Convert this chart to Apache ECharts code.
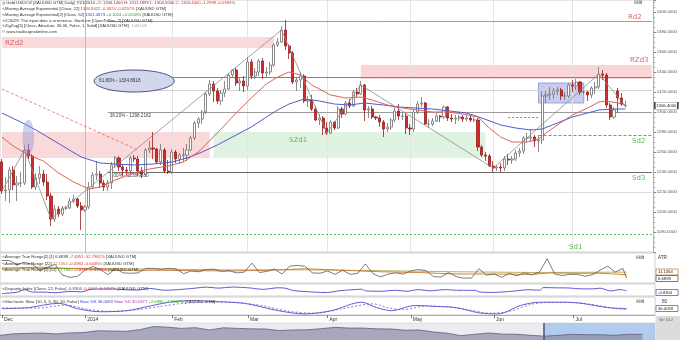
<!DOCTYPE html>
<html><head><meta charset="utf-8">
<script src="https://cdn.jsdelivr.net/npm/echarts/dist/echarts.min.js"></script>
<style>html,body{margin:0;padding:0;background:#fff}#c{width:680px;height:340px}</style>
</head><body><div id="c"></div>
<script>
// ---- price data (daily bars Dec 2 2013 .. Jul 21 2014) ----
const opens = [1250,1221,1222,1242,1227,1229,1229,1262,1256,1225,1234,1238,1230,1216,1193,1203,1198,1204,1204,1211,1213,1206,
 1202,1205,1225,1237,1238,1229,1225,1229,1247,1254,1245,1242,1241,1254,1253,1241,1238,1262,1264,1263,1250,1262,1241,
 1240,1260,1253,1257,1257,1262,1274,1289,1293,1300,1318,1328,1321,1311,1319,1323,1337,1342,1329,1331,
 1326,1350,1336,1340,1351,1339,1340,1347,1367,1370,1382,1366,1359,1330,1332,1336,1311,1312,1303,1292,1294,
 1284,1279,1290,1284,1303,1298,1309,1306,1320,1318,1327,1302,1303,1295,1294,1290,1283,1285,1292,1301,1296,1296,
 1284,1283,1300,1308,1309,1288,1288,1291,1296,1295,1305,1294,1293,1294,1295,1293,1294,1292,1292,1265,1257,1256,
 1246,1244,1245,1244,1253,1252,1253,1259,1261,1274,1274,1275,1271,1272,1316,1317,1318,1321,1322,1316,1316,
 1327,1326,1330,1320,1320,1317,1324,1325,1338,1337,1307,1295,1321,1314,1306.14];
const closes = [1221,1222,1242,1227,1229,1229,1262,1256,1225,1234,1238,1230,1216,1193,1203,1198,1204,1204,1211,1213,1206,1202,
 1205,1225,1237,1238,1229,1225,1229,1247,1254,1245,1242,1241,1254,1253,1241,1238,1262,1264,1263,1250,1262,1241,1240,
 1260,1253,1257,1257,1262,1274,1289,1293,1300,1318,1328,1321,1311,1319,1323,1337,1342,1329,1331,1326,
 1350,1336,1340,1351,1339,1340,1347,1367,1370,1382,1366,1359,1330,1332,1336,1311,1312,1303,1292,1294,1284,
 1279,1290,1284,1303,1298,1309,1306,1320,1318,1327,1302,1303,1295,1294,1290,1283,1285,1292,1301,1296,1296,1284,
 1283,1300,1308,1309,1288,1288,1291,1296,1295,1305,1294,1293,1294,1295,1293,1294,1292,1292,1265,1257,1256,1246,
 1244,1245,1244,1253,1252,1253,1259,1261,1274,1274,1275,1271,1272,1316,1317,1318,1321,1322,1316,1316,1327,
 1326,1330,1320,1320,1317,1324,1325,1338,1337,1307,1295,1302,1314,1308,1306.4];
const lows = [1218,1211,1209,1222,1211,1225,1227,1253,1223,1222,1228,1226,1212,1186,1190,1195,1196,1202,1203,1209,1204,1182,
 1200,1203,1223,1232,1224,1221,1221,1223,1244,1241,1236,1237,1238,1250,1236,1234,1236,1259,1253,1248,1247,1239,1238,
 1238,1249,1248,1250,1251,1261,1272,1284,1288,1298,1316,1310,1308,1307,1315,1322,1334,1326,1321,1320,
 1322,1333,1333,1336,1333,1335,1337,1345,1365,1369,1362,1353,1328,1321,1324,1309,1305,1301,1291,1287,1277,
 1277,1278,1282,1283,1294,1297,1304,1305,1315,1317,1291,1294,1293,1292,1285,1275,1280,1282,1290,1292,1292,1278,
 1277,1280,1298,1305,1287,1284,1286,1290,1290,1293,1291,1290,1288,1291,1290,1291,1290,1290,1261,1255,1251,1245,
 1240,1241,1240,1241,1247,1248,1251,1255,1258,1270,1270,1265,1260,1268,1309,1312,1313,1317,1312,1312,1314,
 1320,1322,1317,1318,1311,1314,1318,1323,1332,1304,1292,1293,1299,1306,1304.5];
const highs = [1253,1235,1245,1246,1236,1240,1267,1268,1258,1239,1246,1242,1238,1219,1207,1206,1206,1206,1214,1217,1214,1210,
 1207,1230,1240,1251,1241,1232,1232,1250,1256,1256,1248,1245,1256,1257,1256,1245,1264,1271,1280,1264,1268,1264,1252,
 1263,1262,1259,1264,1268,1276,1291,1295,1302,1320,1332,1331,1324,1322,1331,1339,1343,1344,1334,1336,
 1355,1353,1344,1353,1354,1345,1350,1369,1374,1386,1392,1368,1361,1335,1340,1338,1316,1317,1306,1298,1296,
 1290,1292,1291,1306,1305,1311,1313,1322,1324,1331,1328,1306,1306,1296,1297,1292,1289,1294,1305,1308,1300,1299,
 1288,1303,1311,1315,1310,1293,1294,1299,1297,1306,1306,1298,1297,1297,1297,1297,1297,1295,1294,1267,1260,1258,
 1251,1247,1249,1256,1258,1256,1262,1264,1276,1279,1283,1277,1277,1321,1321,1325,1324,1325,1324,1320,1329,
 1332,1333,1331,1322,1321,1326,1330,1345,1342,1339,1309,1305,1324,1319,1311.19];

// ---- indicator lines: [bar index, value] ----
const ema22 = [[0,1275],[3,1266],[7,1257],[11,1251],[15,1239],[19,1230],[23,1223],[26,1225],[30,1232],[35,1239],[39,1243],[44,1246],[48,1250],[52,1260],[57,1279],[62,1299],[66,1314],[70,1328],[73,1335],[76,1340],[79,1337],[82,1327],[87,1317],[91,1314],[95,1315],[98,1312],[102,1307],[106,1304],[110,1302],[114,1300],[118,1300],[122,1298],[126,1295],[129,1284],[132,1275],[135,1270],[139,1270],[142,1273],[144,1279],[147,1287],[151,1297],[155,1304],[158,1310],[160,1311],[163,1309],[165,1307]];
const ema52 = [[0,1299],[5,1290],[9,1282],[13,1273],[17,1264],[21,1255],[26,1249],[30,1248],[35,1247],[40,1248],[45,1250],[49,1254],[53,1260],[57,1267],[61,1275],[66,1285],[70,1295],[73,1302],[76,1308],[80,1313],[84,1311],[88,1308],[92,1307],[96,1309],[101,1307],[105,1305],[114,1303],[123,1299],[127,1294],[132,1287],[136,1284],[140,1282],[143,1283],[147,1289],[151,1295],[155,1299],[158,1302],[162,1303],[165,1303]];
const zigzag = [[0,1221],[6,1262],[13,1193],[74,1382],[86,1279],[95,1327],[130,1244],[158,1338],[165,1306]];
const trendDash = [[0,1323],[36,1262]];

const atrFast = [[0,30],[2,30],[4,24.5],[6,27.5],[8,25],[10,17.5],[12,21],[14,25],[16,10.5],[18,7.5],[20,9],[22,17.5],[24,22],[26,18],[28,11],[30,19.5],[32,13.5],[34,13],[36,13.5],[38,19.5],[40,19.5],[42,18.5],[44,19.5],[46,19],[48,12.5],[50,16],[52,15],[54,18],[56,18.5],[58,15.5],[60,16.5],[62,13.5],[64,14.5],[66,26.5],[68,14],[70,15.5],[72,18.5],[74,12],[76,22.5],[78,23.5],[80,22.5],[82,13.5],[84,13],[86,16],[88,11.5],[90,17],[92,11.5],[94,13],[96,25.5],[98,12.5],[100,8],[102,12],[104,13.5],[106,12],[108,16],[110,18],[112,16.5],[114,8.5],[116,8],[118,14],[120,8.5],[122,6.5],[124,6.5],[126,19],[128,10.5],[130,12],[132,7.5],[134,13],[136,9.5],[138,13.5],[140,11],[142,14.5],[144,32.5],[146,12],[148,10],[150,11.5],[152,11.5],[154,9],[156,11],[158,17],[160,22.5],[162,14.5],[164,19.5],[165,6.7]];
const atrMid = [[0,20],[10,21],[20,19],[30,17],[40,17],[50,16.5],[60,16],[70,17],[80,19],[90,17],[100,15],[110,14],[120,12],[130,12],[140,11.5],[145,13.5],[150,13],[158,13],[165,11.1]];
const atrSlow = [[0,19],[20,19.5],[40,18.5],[60,17.5],[80,17.5],[100,16.5],[120,15],[140,14],[165,14.5]];
const disparity = [[0,-4.2],[4,-2.6],[6,0.3],[8,-2.4],[12,-2.6],[14,-3.2],[18,-1.7],[21,-2.1],[24,1.1],[29,1.2],[33,0.2],[36,0],[39,1.8],[43,-0.3],[47,0.6],[51,2.1],[54,3.4],[57,2.2],[61,3.4],[65,2.6],[69,0.8],[73,2.6],[75,2.0],[77,-0.7],[80,-1.7],[83,-2.6],[86,-2.9],[89,-0.9],[93,0.4],[95,0.9],[96,-0.9],[100,-1.5],[104,-0.3],[107,-1.5],[110,0.5],[113,-1.0],[117,0.4],[121,-0.4],[125,-0.4],[126,-2.3],[129,-2.8],[132,-2.4],[136,-0.9],[139,0.3],[142,-0.2],[143,2.8],[147,2.5],[150,2.3],[153,1.3],[156,1.3],[158,2.1],[160,-0.4],[161,-1.2],[163,0.5],[165,-0.83]];
const stochK = [[0,35],[7,41],[15,65],[20,35],[26,18],[33,24],[38,45],[44,70],[50,80],[55,76],[64,65],[73,24],[80,6],[87,24],[95,71],[99,41],[103,24],[109,53],[115,47],[120,41],[126,12],[131,6],[137,53],[142,71],[149,71],[153,65],[160,41],[165,36]];
const stochD = [[0,40],[9,38],[17,55],[23,30],[29,20],[36,30],[41,45],[48,65],[57,72],[67,58],[76,20],[83,10],[90,35],[98,62],[102,40],[106,30],[112,50],[118,45],[123,30],[129,10],[134,20],[140,60],[145,70],[152,68],[157,55],[163,33],[165,30]];
const navValues = [1250,1350,1380,1400,1340,1410,1430,1550,1530,1510,1620,1820,1780,1700,1750,1600,1740,1700,1670,1660,1560,1600,1610,1680,1770,1720,1720,1670,1660,1580,1600,1470,1390,1230,1320,1400,1330,1320,1250,1200,1250,1320,1290,1290,1250,1320,1310];

const monthStarts = [0,22,45,65,86,108,130,151];
const monthNames = ['Dec','2014','Feb','Mar','Apr','May','Jun','Jul'];
const N_CAT = 173;

// ---- build ----
const cats = Array.from({length:N_CAT}, (_, i) => String(i));
const candles = opens.map((o, i) => [o, closes[i], lows[i], highs[i]]);
const navData = navValues.map((v, i) => [i, v]);
const F = '"Liberation Sans", Arial, sans-serif';
const GRID_R = 25;

function hLine(i1, i2, v, color, type, width, label) {
  const a = {coord:[i1, v], lineStyle:{color, type: type || 'solid', width: width || 1}};
  if (label) a.label = {show:true, formatter: label, position:'insideStartBottom', fontSize:4.6, color:'#444', fontFamily:F, distance:[2,1]};
  return [a, {coord:[i2, v]}];
}
function band(i1, i2, v1, v2, color, border) {
  return [{coord:[i1, v1], itemStyle:{color, borderColor: border || 'transparent', borderWidth: border ? 0.8 : 0}}, {coord:[i2, v2]}];
}

const chart = echarts.init(document.getElementById('c'), null, {renderer:'canvas'});

const hidX = (gi) => ({type:'category', gridIndex:gi, data:cats, boundaryGap:true, show:false});

const option = {
  animation:false,
  backgroundColor:'#ffffff',
  grid:[
    {left:0, right:GRID_R, top:0, height:252, show:true, borderColor:'#c4c4c4', borderWidth:0.8},
    {left:0, right:GRID_R, top:253, height:30, show:true, borderColor:'#c4c4c4', borderWidth:0.8},
    {left:0, right:GRID_R, top:284, height:12, show:true, borderColor:'#c4c4c4', borderWidth:0.8},
    {left:0, right:GRID_R, top:297, height:18, show:true, borderColor:'#c4c4c4', borderWidth:0.8},
    {left:0, right:GRID_R, top:323, height:17, show:true, borderColor:'#c8c8d0', borderWidth:0.5, backgroundColor:'#ebebf0'}
  ],
  xAxis:[
    hidX(0), hidX(1), hidX(2),
    {type:'category', gridIndex:3, data:cats, boundaryGap:true,
      axisLine:{show:true, lineStyle:{color:'#9a9a9a', width:0.8}},
      axisTick:{show:true, interval:(i)=>monthStarts.includes(i), length:3, lineStyle:{color:'#777'}, alignWithLabel:true},
      axisLabel:{show:true, interval:(i)=>monthStarts.includes(i), formatter:(v)=>monthNames[monthStarts.indexOf(+v)] || '', align:'left', margin:2, padding:[0,0,0,2], fontSize:5, color:'#333', fontFamily:F}},
    {type:'value', gridIndex:4, min:0, max:46.9, show:false}
  ],
  yAxis:[
    {type:'value', gridIndex:0, position:'right', min:1160, max:1412, interval:20, scale:true,
      axisLine:{show:true, lineStyle:{color:'#a8a8a8', width:0.8}},
      axisTick:{show:true, length:2.5, lineStyle:{color:'#888'}},
      minorTick:{show:true, splitNumber:4, length:1.5, lineStyle:{color:'#aaa'}},
      splitLine:{show:false},
      axisLabel:{fontSize:4.3, color:'#555', fontFamily:F, margin:3, showMinLabel:false, showMaxLabel:false, formatter:(v)=>v.toFixed(4)}},
    {type:'value', gridIndex:1, min:0, max:40, show:false},
    {type:'value', gridIndex:2, min:-7, max:7, show:false},
    {type:'value', gridIndex:3, min:0, max:100, show:false},
    {type:'value', gridIndex:4, min:950, max:2050, show:false}
  ],
  series:[
    {type:'line', xAxisIndex:0, yAxisIndex:0, data:[], silent:true, z:1,
      markArea:{silent:true, z:1, data:[
        band(0, 72, 1375, 1364, 'rgba(232,120,120,0.28)'),
        band(0, 55, 1280, 1254, 'rgba(232,120,120,0.28)'),
        band(56, 128, 1280, 1254, 'rgba(130,205,130,0.25)'),
        band(95, 172, 1347, 1333, 'rgba(232,120,120,0.30)'),
        band(142, 154, 1329, 1309, 'rgba(125,135,220,0.42)', '#8a90d4')
      ]},
      markLine:{silent:true, z:1, symbol:['none','none'], label:{show:false}, data:[
        ...monthStarts.slice(1).map((m) => ({xAxis:m, lineStyle:{color: m === 22 ? '#bdbdbd' : '#e4e4e4', width:1, type:'solid'}})),
        hLine(28, 172, 1391, '#9c9c9c'),
        hLine(28, 172, 1335, '#b07070'),
        hLine(28, 172, 1322, '#d0d0d0'),
        hLine(28, 172, 1300, '#9c9c9c', 'solid', 1, '38.20% - 1298.2182'),
        hLine(28, 172, 1240, '#6c6c6c', 'solid', 1, '0.00% - 1238.9380'),
        hLine(0, 172, 1220, '#dcdcdc'),
        hLine(0, 172, 1178, '#55b055', [2,2], 1),
        hLine(142, 172, 1277, '#55b055', [3,2], 1),
        hLine(134, 142, 1295, '#e06060', [2,2], 1)
      ]}
    },
    {type:'candlestick', xAxisIndex:0, yAxisIndex:0, data:candles, barWidth:2.6, z:3,
      itemStyle:{color:'#ffffff', color0:'#d22a2a', borderColor:'#707070', borderColor0:'#9c1a1a', borderWidth:0.8},
      markPoint:{symbol:'rect', symbolSize:[23,7], symbolOffset:[41,0], silent:true,
        itemStyle:{color:'#ffffff', borderColor:'#333', borderWidth:0.8},
        label:{show:true, position:'inside', fontSize:4.3, color:'#222', fontFamily:F, formatter:'1306.4000'},
        data:[{coord:[165, 1306.4]}]}
    },
    {type:'line', xAxisIndex:0, yAxisIndex:0, data:ema52, symbol:'none', z:4, lineStyle:{color:'#4f5ccf', width:1}},
    {type:'line', xAxisIndex:0, yAxisIndex:0, data:ema22, symbol:'none', z:4, lineStyle:{color:'#e2605a', width:1}},
    {type:'line', xAxisIndex:0, yAxisIndex:0, data:zigzag, symbol:'none', z:4, lineStyle:{color:'#8c8c8c', width:0.8}},
    {type:'line', xAxisIndex:0, yAxisIndex:0, data:trendDash, symbol:'none', z:4, lineStyle:{color:'#e06a6a', width:0.8, type:[3,2]}},
    {type:'custom', xAxisIndex:0, yAxisIndex:0, z:5, clip:false, encode:{x:0, y:1},
      data:[[35, 1331, 10.6, 11], [7, 1275, 1.4, 17]],
      renderItem:(params, api) => {
        const cx = api.value(0), cy = api.value(1), rxI = api.value(2), ryV = api.value(3);
        const c = api.coord([cx, cy]);
        const bw = api.coord([cx + 1, cy])[0] - c[0];
        const rx = bw * rxI;
        const ry = Math.abs(api.coord([cx, cy + ryV])[1] - c[1]);
        if (params.dataIndex === 0) {
          return {type:'group', children:[
            {type:'ellipse', shape:{cx:c[0], cy:c[1], rx, ry}, style:{fill:'#d3d7ee', stroke:'#4d5285', lineWidth:1}},
            {type:'text', x:c[0] - rx + 5, y:c[1], style:{text:'61.80% - 1334.8618', fill:'#333', font:'4.6px ' + F, verticalAlign:'middle', align:'left'}}
          ]};
        }
        return {type:'ellipse', shape:{cx:c[0], cy:c[1], rx, ry}, style:{fill:'rgba(150,150,225,0.45)', stroke:'rgba(140,140,215,0.5)', lineWidth:0.5}};
      }
    },
    {type:'line', xAxisIndex:1, yAxisIndex:1, data:atrSlow, symbol:'none', lineStyle:{color:'#a8a040', width:0.8}},
    {type:'line', xAxisIndex:1, yAxisIndex:1, data:atrMid, symbol:'none', lineStyle:{color:'#d0843c', width:1}},
    {type:'line', xAxisIndex:1, yAxisIndex:1, data:atrFast, symbol:'none', lineStyle:{color:'#5a5a5a', width:0.8}},
    {type:'line', xAxisIndex:2, yAxisIndex:2, data:disparity, symbol:'none', smooth:0.3, lineStyle:{color:'#5b5bd6', width:1}},
    {type:'line', xAxisIndex:3, yAxisIndex:3, data:stochD, symbol:'none', smooth:0.3, lineStyle:{color:'#6a5ad0', width:0.8, type:[2,2]}},
    {type:'line', xAxisIndex:3, yAxisIndex:3, data:stochK, symbol:'none', smooth:0.3, lineStyle:{color:'#6a5ad0', width:1}},
    {type:'line', xAxisIndex:4, yAxisIndex:4, data:navData, symbol:'none', lineStyle:{color:'#5e5e80', width:0.8},
      areaStyle:{color:'#8a8aa8', origin:'start'},
      markArea:{silent:true, itemStyle:{color:'rgba(110,165,230,0.45)'}, data:[[{coord:[38.9, 950]}, {coord:[46.9, 2050]}]]},
      markLine:{silent:true, symbol:['none','none'], label:{show:false}, data:[{xAxis:38.9, lineStyle:{color:'#555570', width:1.5, type:'solid'}}]}
    }
  ],
  graphic:[]
};

// ---- text annotations ----
const rich = {
  d:{fill:'#333', fontSize:4.2, fontFamily:F},
  m:{fill:'#9a2a2a', fontSize:4.2, fontFamily:F},
  r:{fill:'#e0302a', fontSize:4.2, fontFamily:F},
  b:{fill:'#3a3ad0', fontSize:4.2, fontFamily:F},
  g:{fill:'#2aa02a', fontSize:4.2, fontFamily:F},
  o:{fill:'#d07a2a', fontSize:4.2, fontFamily:F},
  p:{fill:'#b030b0', fontSize:4.2, fontFamily:F},
  s:{fill:'#999', fontSize:3.8, fontFamily:F}
};
function rt(x, y, text) {
  return {type:'text', x, y, z:50, style:{text, rich, verticalAlign:'middle', align:'left', fontSize:4.2, fontFamily:F}};
}
function lbl(x, y, text, color, size) {
  return {type:'text', x, y, z:50, style:{text, fill:color, font:(size||7) + 'px "DejaVu Sans", sans-serif', verticalAlign:'middle'}};
}
function box(x, y, text, stroke) {
  return {type:'group', z:50, children:[
    {type:'rect', shape:{x, y, width:22, height:6}, style:{fill:'#fff', stroke, lineWidth:0.8}},
    {type:'text', x:x + 2, y:y + 3, style:{text, fill:'#222', font:'4.2px ' + F, verticalAlign:'middle'}}
  ]};
}
option.graphic = [
  rt(2, 3, '{d|◎ Gold USD/OZ [XAUUSD GTM] Daily] 7/21/2014 }{m|-O: 1306.1400 H: 1311.1899 L: 1304.5000 }{r|C: 1306.4000 -1.2999 -0.0994%}'),
  rt(2, 9, '{d|∿Moving Average Exponential [Close, 22] }{r|1305.9422 -0.3374 -0.0257%}{d| [XAUUSD GTM]}'),
  rt(2, 14.5, '{d|∿Moving Average Exponential[2] [Close, 52] }{b|1301.4673 }{g|+0.1024 +0.0118%}{d| [XAUUSD GTM]}'),
  rt(2, 20.5, '{d|∿/C3029: The input data is erroneous. StartLine [OpenToBox, 2] [XAUUSD GTM]}'),
  rt(2, 26, '{d|∿ZigZag[3] [Close, Absolute, 30.36, False, 1, Solid] [XAUUSD GTM]}{s|   1,091.08}'),
  rt(2, 32, '{d|© www.tradesignalonline.com}'),
  rt(2, 257, '{d|∿Average True Range[2] [1] 6.6899 }{r|-7.4851 -52.7861%}{d| [XAUUSD GTM]}'),
  rt(2, 263.5, '{d|∿Average True Range [22] }{o|11.1364 }{r|-0.0982 -0.6446%}{d| [XAUUSD GTM]}'),
  rt(2, 270, '{d|∿Average True Range[3] [52] }{g|17.7660 }{r|-0.8211 -4.4123%}{d| [XAUUSD GTM]}'),
  rt(2, 289, '{d|∿Disparity Index [Close, 22, False] }{b|-0.8304 }{r|-0.0617 -6.1357%}{d| [XAUUSD GTM]}'),
  rt(2, 302, '{d|∿Stochastic Slow [10, 5, 5, 80, 20, False] }{b|Slow %K 36.0059 }{p|Slow %D 30.0377 }{g|+2.6990 +7.9727%}{d| [XAUUSD GTM]}'),
  lbl(5, 43, 'RZd2', '#e06464'),
  lbl(628, 17, 'Rd2', '#e06464'),
  lbl(630, 60, 'RZd3', '#e06464'),
  lbl(289, 140, 'SZd1', '#5cb85c'),
  lbl(632, 141, 'Sd2', '#5cb85c'),
  lbl(632, 178, 'Sd3', '#5cb85c'),
  lbl(569, 247, 'Sd1', '#5cb85c'),
  lbl(634, 3, '⊟⊠', '#555', 5),
  lbl(636, 258, '⊟⊠', '#555', 5),
  lbl(636, 302, '⊟⊠', '#555', 5),
  {type:'text', x:658, y:258, z:50, style:{text:'ATR', fill:'#333', font:'4.6px ' + F, verticalAlign:'middle'}},
  box(656, 269, '11.1364', '#d0843c'),
  box(656, 275.5, '6.6899', '#555'),
  box(656, 289.5, '-0.8304', '#5b5bd6'),
  {type:'text', x:662, y:302, z:50, style:{text:'80', fill:'#333', font:'4.6px ' + F, verticalAlign:'middle'}},
  box(656, 305.5, '36.0059', '#6a5ad0'),
  {type:'rect', z:40, shape:{x:655.5, y:316, width:24.5, height:24}, style:{fill:'#dcdcdc'}},
  {type:'text', x:659, y:320, z:50, style:{text:'Ver 10.2', fill:'#555', font:'3.8px ' + F, verticalAlign:'middle'}}
];

chart.setOption(option);
</script>
</body></html>
